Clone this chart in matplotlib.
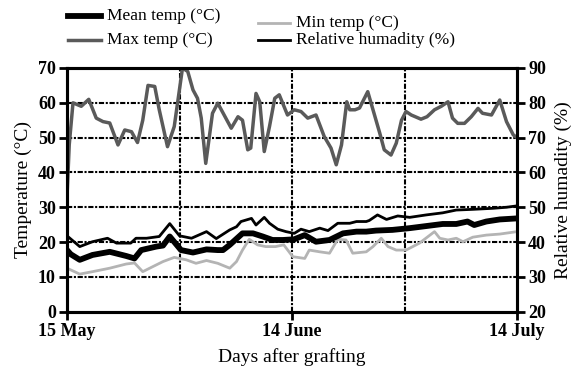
import matplotlib
matplotlib.use("Agg")
import matplotlib.pyplot as plt
from matplotlib.lines import Line2D

plt.rcParams['font.family'] = ['Liberation Serif', 'DejaVu Serif']

# Days after 15 May
max_days = [0, 0.3, 0.8, 1.9, 2.9, 3.9, 4.8, 5.7, 6.8, 7.7, 8.6, 9.4, 10.1, 10.8, 11.7, 12.3, 13.4, 14.3,
            15.4, 16.1, 16.8, 17.4, 17.9, 18.5, 19.4, 20.1, 21.9, 22.8, 23.4, 24.1, 24.5, 25.2, 25.7, 26.3,
            27.0, 27.7, 28.3, 29.4, 30.3, 31.2, 32.1, 33.2, 34.3, 35.2, 35.9, 36.6, 37.3, 37.7, 38.4, 39.0,
            40.1, 40.8, 41.7, 42.3, 43.2, 43.9, 44.6, 45.2, 45.9, 47.2, 48.0, 49.0, 49.9, 50.8, 51.4, 52.1,
            53.0, 53.9, 54.8, 55.4, 56.6, 57.7, 58.6, 59.5, 60.0]
max_temp = [33, 48, 60, 59, 61, 55.6, 54.6, 54.2, 47.9, 52.2, 51.7, 48.6, 55, 65, 64.7, 58, 47.4, 53.2,
            70, 69, 63.7, 61.3, 55.6, 42.6, 57, 59.9, 52.7, 56, 55, 46.5, 47, 62.7, 60.3, 46,
            53.2, 61.3, 62.3, 56.5, 58, 57.5, 55.6, 56.5, 50.3, 47, 42.2, 47.9, 60.3, 58, 58, 58.5,
            63.2, 58, 51.3, 46.5, 45, 48.4, 55, 57.5, 56.5, 55.3, 56, 58, 59, 60.3, 55.6, 54.1,
            54.1, 56, 58.4, 57, 56.5, 60.8, 54.6, 50.8, 50]

rh_days = [0, 1.7, 3.4, 5.4, 6.6, 8.5, 9.2, 10.6, 12.3, 13.7, 15.0, 16.6, 18.6, 19.9, 21.7, 22.6, 23.2,
           24.6, 25.2, 26.3, 27.0, 28.1, 29.2, 30.3, 31.2, 32.3, 33.7, 34.8, 36.1, 37.7, 38.6, 39.9, 40.3,
           41.4, 42.6, 44.1, 45.7, 47.9, 50.1, 51.9, 54.1, 56.8, 58.6, 60.0]
rh = [21.8, 18.7, 20.1, 21.1, 19.7, 19.7, 21.1, 21.1, 21.6, 25.3, 21.8, 21.1, 23, 21, 23.5, 24.4, 25.9,
      26.8, 24.9, 27.1, 25.4, 23.7, 23, 22.5, 23.7, 23, 24, 23.3, 25.4, 25.4, 25.9, 25.9, 26.2,
      27.8, 26.5, 27.5, 27.1, 27.8, 28.4, 29.2, 29.4, 29.7, 30, 30.4]

mean_days = [0, 0.5, 1.7, 3.4, 5.7, 7.9, 9.0, 9.9, 11.9, 12.8, 13.7, 15.2, 16.8, 18.6, 20.1, 20.8, 21.7,
             23.4, 24.8, 26.1, 27.4, 28.8, 30.3, 31.7, 33.2, 35.0, 36.8, 38.6, 39.9, 41.2, 43.4, 45.7,
             47.9, 50.1, 51.9, 53.4, 54.3, 55.9, 57.7, 60.0]
mean_temp = [17.7, 16.5, 14.9, 16.3, 17.2, 16, 15.3, 17.7, 18.7, 19, 21.6, 17.7, 17, 17.9, 17.7, 17.7, 19.2,
             22.5, 22.5, 21.6, 20.6, 20.6, 20.8, 22, 20.1, 20.6, 22.5, 23, 23, 23.3, 23.5, 24,
             24.6, 25.2, 25.2, 25.9, 24.9, 25.9, 26.5, 26.8]

min_days = [0, 1.7, 3.4, 5.7, 7.9, 9.0, 10.1, 11.4, 12.8, 14.3, 15.9, 17.2, 18.6, 20.1, 21.7, 22.6, 23.4,
            24.3, 25.4, 26.5, 27.8, 28.9, 30.1, 31.7, 32.3, 33.7, 35.0, 36.1, 37.2, 38.1, 39.9, 40.8,
            41.9, 42.8, 43.9, 45.2, 47.0, 49.0, 49.7, 50.8, 51.9, 52.8, 54.1, 55.9, 57.7, 60.0]
min_temp = [12.5, 10.8, 11.5, 12.5, 13.7, 14, 11.5, 12.9, 14.4, 15.6, 14.9, 13.9, 14.7, 13.9, 12.5, 14.4, 17.7,
            20.8, 19.2, 18.7, 18.7, 19.2, 15.8, 15.3, 17.7, 17.2, 16.8, 20.8, 20.6, 16.8, 17.2, 18.7,
            21.1, 18.7, 17.7, 17.7, 19.7, 23, 21.1, 20.6, 21.1, 20.1, 21.4, 22, 22.3, 23]

xtick_pos = [0, 30, 60]
xtick_labels = ['15 May', '14 June', '14 July']
left_ticks = [0, 10, 20, 30, 40, 50, 60, 70]
right_ticks = [20, 30, 40, 50, 60, 70, 80, 90]

W, H = 579, 374
fig = plt.figure(figsize=(W / 100, H / 100), dpi=100)
ax = fig.add_axes([67 / W, 1 - 311.7 / H, (517 - 67) / W, (311.7 - 68) / H])

grid_ls = (0, (2.5, 0.8, 1, 0.8))
for yv in [10, 20, 30, 40, 50, 60]:
    ax.axhline(yv, color='black', lw=1.5, ls=grid_ls, zorder=1)
for xv in [15, 30, 45]:
    ax.axvline(xv, color='black', lw=1.5, ls=grid_ls, zorder=1)

c_max = '#5a5a5a'
c_min = '#b4b4b4'
kw = dict(solid_joinstyle='round', solid_capstyle='round')
ax.plot(max_days, max_temp, color=c_max, lw=2.5, zorder=3, **kw)
ax.plot(min_days, min_temp, color=c_min, lw=2.0, zorder=3, **kw)
ax.plot(rh_days, rh, color='black', lw=2.0, zorder=4, **kw)
ax.plot(mean_days, mean_temp, color='black', lw=4.2, zorder=5, **kw)

ax.set_xlim(0, 60)
ax.set_ylim(0, 70)
ax.set_xticks(xtick_pos)
ax.set_xticklabels(xtick_labels)
ax.set_yticks(left_ticks)
for s in ax.spines.values():
    s.set_linewidth(2.2)
ax.tick_params(axis='both', direction='out', length=6, width=2, labelsize=13, pad=2)

ax2 = ax.twinx()
ax2.set_ylim(20, 90)
ax2.set_yticks(right_ticks)
ax2.tick_params(axis='y', direction='out', length=6, width=2, labelsize=13, pad=2)
for s in ax2.spines.values():
    s.set_linewidth(2.2)

for lab in ax.get_xticklabels() + ax.get_yticklabels() + ax2.get_yticklabels():
    lab.set_fontweight('bold')

ax.set_ylabel('Temperature (°C)', fontsize=14, labelpad=4)
ax2.set_ylabel('Relative humadity (%)', fontsize=14, labelpad=6)
ax.set_xlabel('Days after grafting', fontsize=14, labelpad=6)

# Legend (manual placement)
def leg(x0, x1, y, color, lw, text):
    fig.add_artist(Line2D([x0 / W, x1 / W], [1 - y / H, 1 - y / H], color=color, lw=lw,
                          transform=fig.transFigure))
    fig.text((x1 + 6) / W, 1 - y / H, text, fontsize=12.5, va='center', ha='left')

leg(68, 101, 16, 'black', 4.2, 'Mean temp (°C)')
leg(68, 101, 40, c_max, 2.5, 'Max temp (°C)')
leg(258, 290, 23, c_min, 2.0, 'Min temp (°C)')
leg(258, 290, 40, 'black', 2.0, 'Relative humadity (%)')

fig.savefig('out.png', dpi=100)
